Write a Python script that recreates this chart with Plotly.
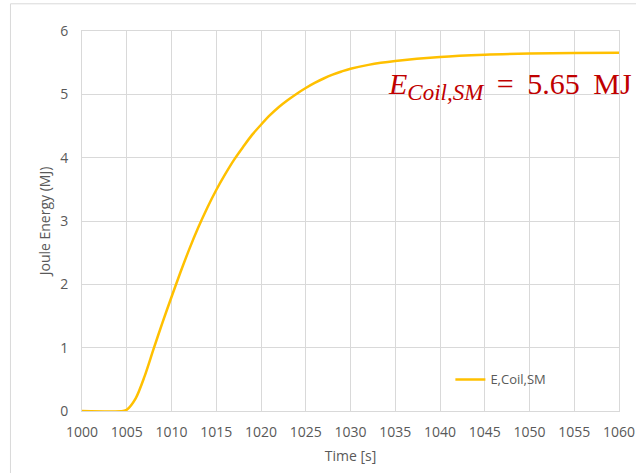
import plotly.graph_objects as go

# Data
time_s = [1000, 1004.6, 1005, 1006, 1007, 1008, 1009, 1010, 1011, 1012, 1013, 1014,
          1015, 1016, 1017, 1018, 1019, 1020, 1021, 1022, 1023, 1024, 1025, 1026,
          1027, 1028, 1029, 1030, 1032, 1035, 1040, 1045, 1050, 1055, 1060]
energy_mj = [0, 0, 0.02, 0.2, 0.55, 0.98, 1.40, 1.80, 2.19, 2.56, 2.90, 3.21,
             3.49, 3.74, 3.97, 4.17, 4.36, 4.52, 4.67, 4.80, 4.91, 5.01, 5.10, 5.18,
             5.25, 5.31, 5.36, 5.405, 5.465, 5.525, 5.59, 5.625, 5.643, 5.652, 5.656]
series_name = "E,Coil,SM"
x_ticks = list(range(1000, 1061, 5))
y_ticks = list(range(0, 7))

GRID = "#D9D9D9"
TXT = "#595959"

fig = go.Figure()
fig.add_trace(go.Scatter(
    x=time_s, y=energy_mj, mode="lines", name=series_name,
    line=dict(color="#FFC000", width=2.5, shape="spline", smoothing=0.8),
    showlegend=True,
))

fig.update_layout(
    width=636, height=473,
    margin=dict(l=82, r=17, t=31, b=62),
    paper_bgcolor="white", plot_bgcolor="white",
    font=dict(family="Open Sans", size=14, color=TXT),
    legend=dict(x=0.686, y=0.083, xanchor="left", yanchor="middle",
                bgcolor="rgba(0,0,0,0)", font=dict(size=13, color=TXT)),
    xaxis=dict(range=[1000, 1060], tickvals=x_ticks, showgrid=True, gridcolor=GRID,
               gridwidth=1, showline=True, mirror=True, linecolor=GRID, linewidth=1,
               zeroline=False, ticks="", ticklabelstandoff=8, automargin=False,
               title=dict(text="Time [s]", font=dict(size=14, color=TXT), standoff=11)),
    yaxis=dict(range=[0, 6], tickvals=y_ticks, showgrid=True, gridcolor=GRID,
               gridwidth=1, showline=True, mirror=True, linecolor=GRID, linewidth=1,
               zeroline=False, ticks="", ticklabelstandoff=10, automargin=False,
               title=dict(text="Joule Energy (MJ)", font=dict(size=14, color=TXT), standoff=6)),
)

fig.add_annotation(
    x=1033.95, y=5.13, xref="x", yref="y", xanchor="left", yanchor="middle",
    showarrow=False,
    text=("<i>E</i><sub><i><span style=\"font-size:23px\">Coil,SM</span></i></sub>"
          " &#8201;=&#8201; 5.65&#8201; MJ"),
    font=dict(family="Liberation Serif", size=30, color="#C00000"),
)

# outer chart border
fig.add_shape(type="rect", xref="paper", yref="paper",
              x0=(10.5 - 82) / 536.7, x1=(640 - 82) / 536.7,
              y0=(410.7 - 480) / 380, y1=(410.7 - 3.5) / 380,
              line=dict(color=GRID, width=1), layer="below")

fig.write_html("out.html")
